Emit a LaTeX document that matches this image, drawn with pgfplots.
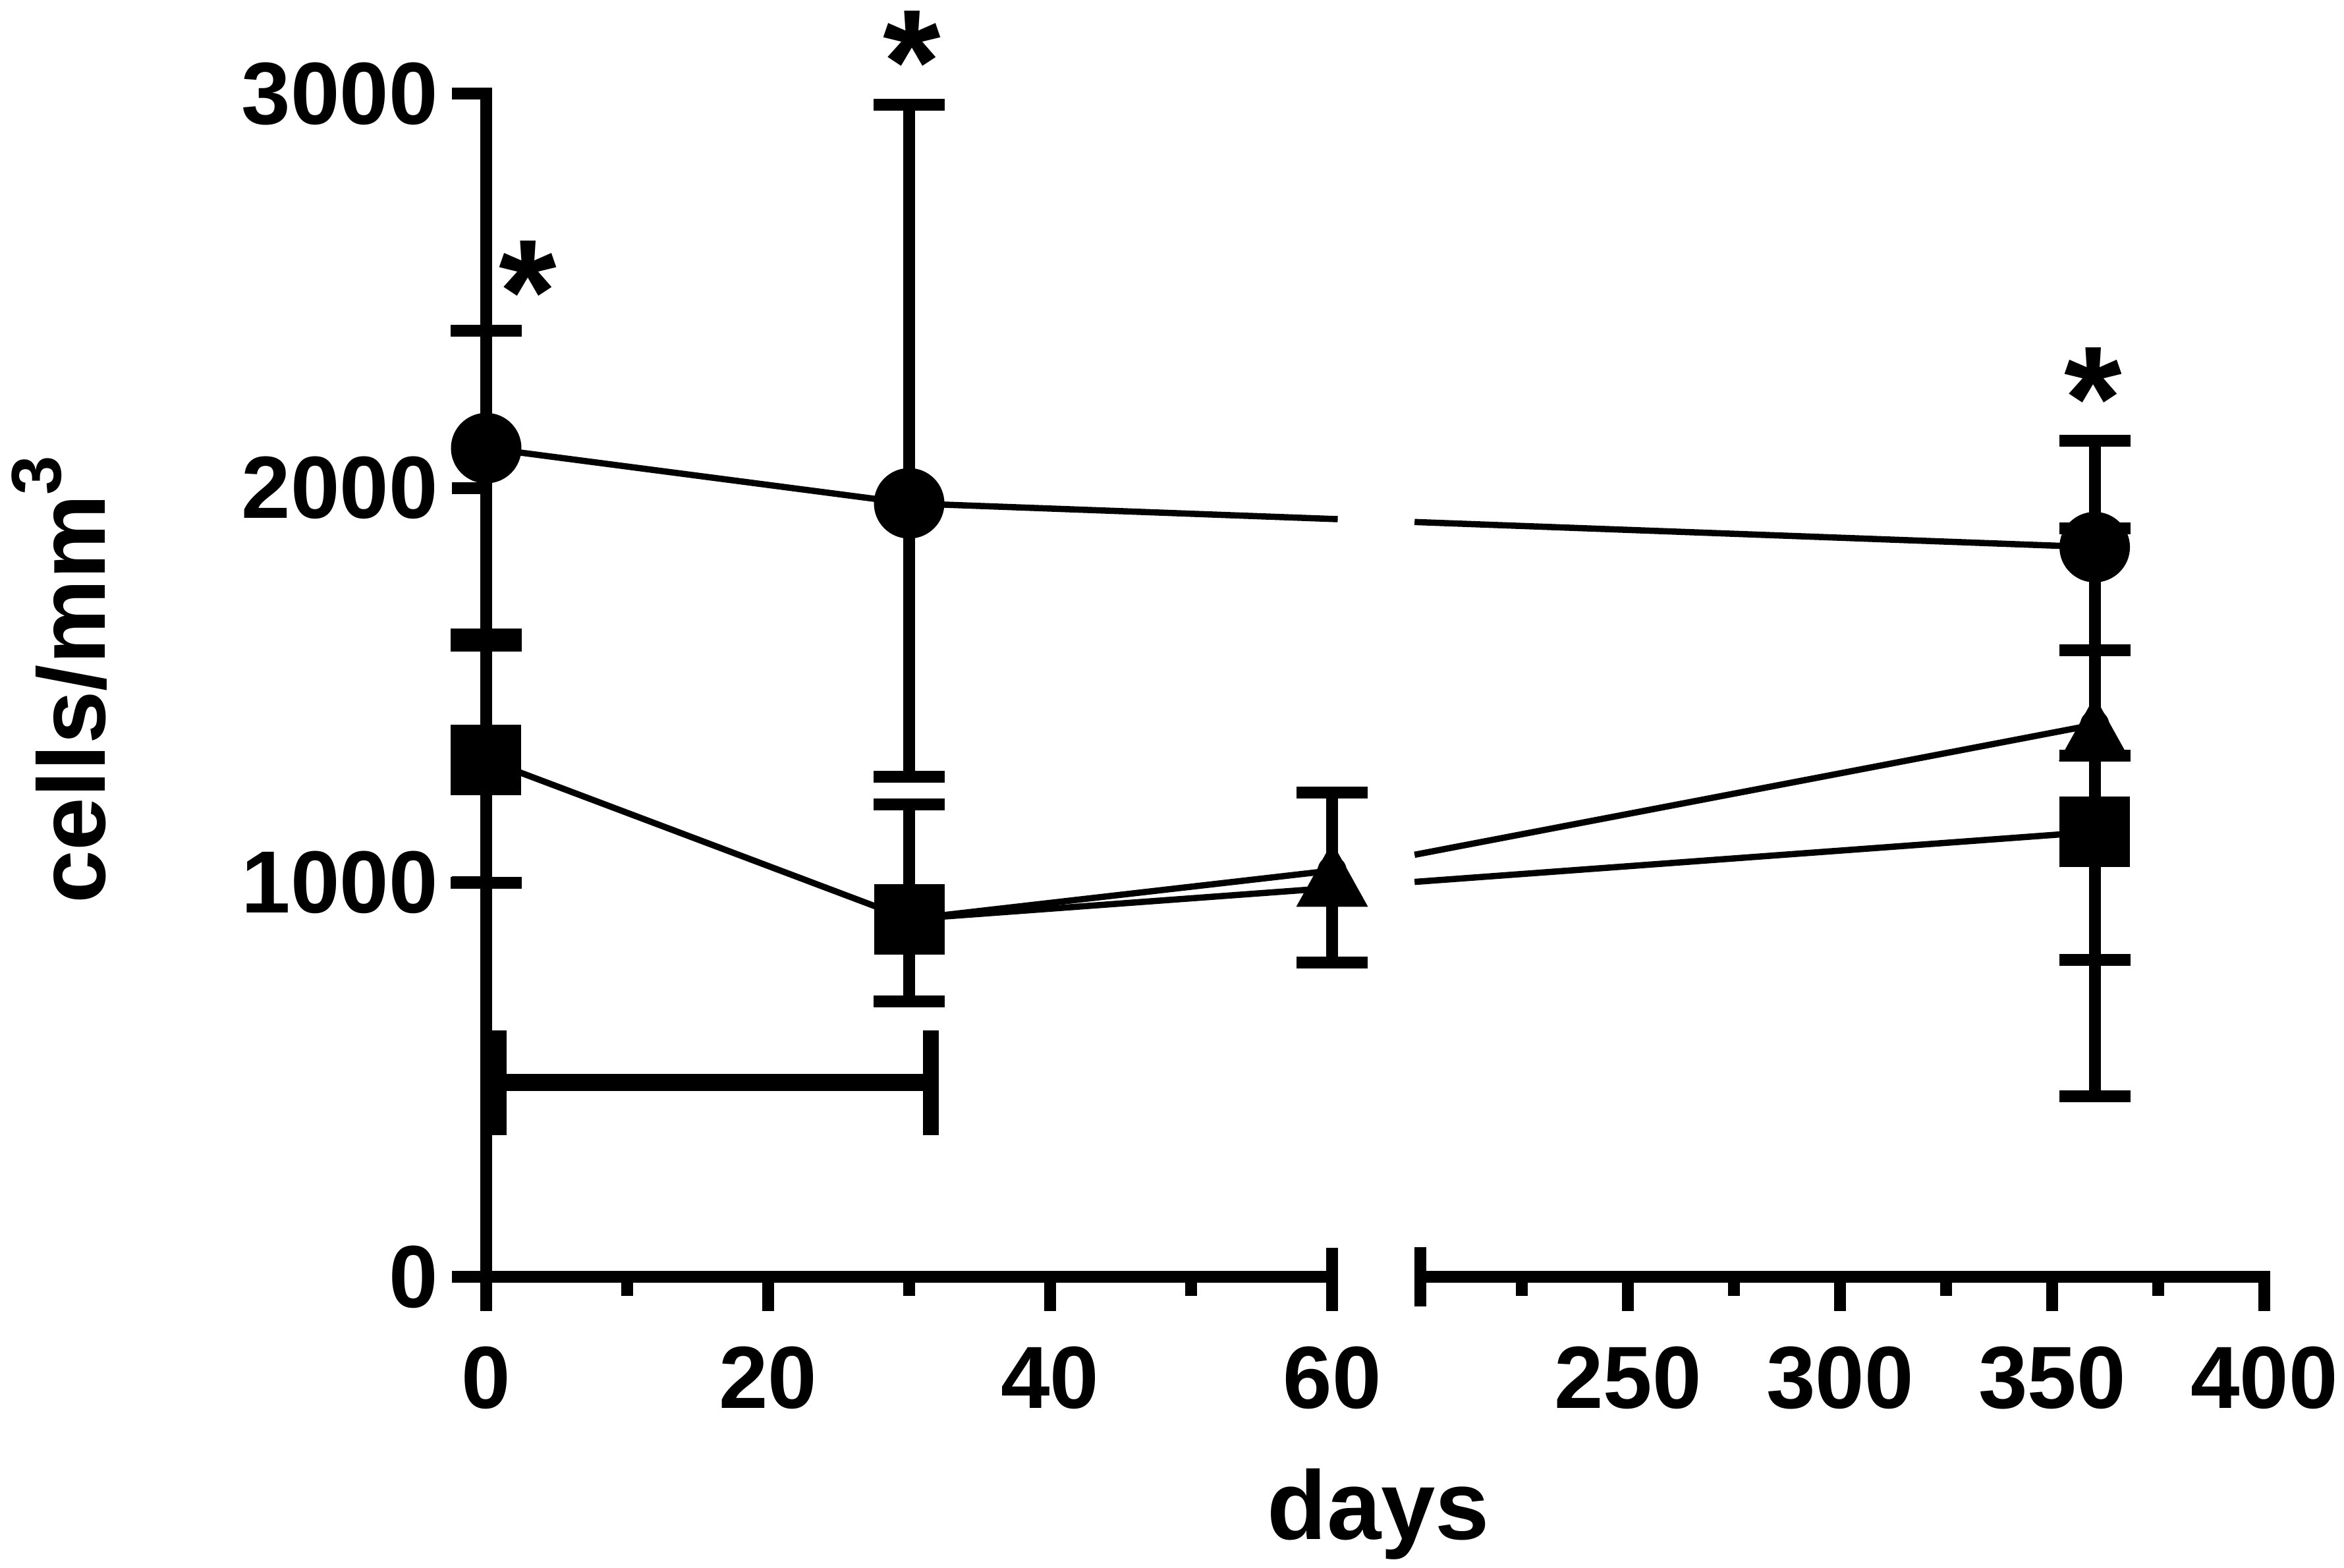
\documentclass[border=0pt]{standalone}
\usepackage{fontspec}
\setmainfont{Liberation Sans}
\usepackage{pgfplots}
\pgfplotsset{compat=1.18}
\usepackage{pgfplotstable}

% triangle drawn as Prism does: point lies a little above the box centre
\pgfdeclareplotmark{ptri}{%
  \pgfpathmoveto{\pgfqpoint{0pt}{4.3pt}}%
  \pgfpathlineto{\pgfqpoint{5.45pt}{-5.5pt}}%
  \pgfpathlineto{\pgfqpoint{-5.45pt}{-5.5pt}}%
  \pgfpathclose
  \pgfusepathqfill}

% x is the plotted position: days 0-60 as is, days 200-400 as 65.93+(d-200)*0.301
\pgfplotstableread{
x      y    lo   hi
0      2101 1600 2399
30     1961 1268 2971
114.09 1850 1588 2120
}\circdata
\pgfplotstableread{
x      y    lo   hi
0      1311 999  1628
30     907  699  1197
114.09 1128 804  1322
}\sqdata
\pgfplotstableread{
x      y    lo   hi
60     1030 797  1228
114.09 1400 458  1897
}\tridata

\newcommand{\tl}{\fontsize{13.4}{13.4}\selectfont\bfseries}
\newcommand{\al}{\fontsize{14.8}{14.8}\selectfont\bfseries}
\newcommand{\starfont}{\fontsize{22.5}{22.5}\selectfont\bfseries}

\begin{document}
\begin{tikzpicture}
\begin{axis}[
  at={(0,0)}, anchor=south west,
  scale only axis, width=269.92pt, height=179.6pt,
  xmin=0, xmax=126.13, ymin=0, ymax=3000,
  clip=false,
  axis lines=left, axis line style={draw=none},
  tick align=outside,
  xtick={0,20,40,60,80.98,96.03,111.08,126.13},
  minor xtick={10,30,50,73.46,88.51,103.56,118.61},
  ytick={0,1000,2000,3000}, minor ytick={},
  xticklabel=\empty, yticklabel=\empty,
  major tick length=5.15pt, minor tick length=2.9pt,
  tick style={black, line width=1.8pt},
]
% series lines (broken at the axis break)
\addplot[line width=0.95pt, mark=none] coordinates {(0,2101) (30,1961) (60.4,1920.9)};
\addplot[line width=0.95pt, mark=none] coordinates {(65.85,1913.7) (114.09,1850)};
\addplot[line width=0.95pt, mark=none] coordinates {(0,1311) (30,907) (60.4,986.9)};
\addplot[line width=0.95pt, mark=none] coordinates {(65.85,1001.2) (114.09,1128)};
\addplot[line width=0.95pt, mark=none] coordinates {(30,907) (60,1030) (60.4,1032.7)};
\addplot[line width=0.95pt, mark=none] coordinates {(65.85,1070) (114.09,1400)};

% error bars
\pgfplotsset{myerr/.style={only marks, mark=none,
  error bars/.cd, y dir=both, y explicit,
  error bar style={black, line width=1.8pt},
  error mark options={rotate=90, black, line width=1.8pt, mark size=5.4pt}}}
\addplot[myerr] table[x=x, y=y, y error plus expr=\thisrow{hi}-\thisrow{y}, y error minus expr=\thisrow{y}-\thisrow{lo}] {\circdata};
\addplot[myerr] table[x=x, y=y, y error plus expr=\thisrow{hi}-\thisrow{y}, y error minus expr=\thisrow{y}-\thisrow{lo}] {\sqdata};
\addplot[myerr] table[x=x, y=y, y error plus expr=\thisrow{hi}-\thisrow{y}, y error minus expr=\thisrow{y}-\thisrow{lo}] {\tridata};

% markers
\addplot[only marks, mark=*, mark size=5.25pt, mark options={fill=black, draw=black, line width=0.2pt}] table[x=x, y=y] {\circdata};
\addplot[only marks, mark=square*, mark size=5.25pt, mark options={fill=black, draw=black, line width=0.2pt}] table[x=x, y=y] {\sqdata};
\addplot[only marks, mark=ptri, mark options={fill=black}] table[x=x, y=y] {\tridata};

% treatment bracket
\addplot[line width=2.6pt, mark=none] coordinates {(0.93,493) (31.55,493)};
\addplot[line width=2.2pt, mark=none] coordinates {(0.93,359) (0.93,625)};
\addplot[line width=2.4pt, mark=none] coordinates {(31.55,359) (31.55,625)};

% broken x axis and y axis lines
\draw[line width=1.8pt] (axis cs:0,0) -- (axis cs:60,0);
\draw[line width=1.8pt] (axis cs:60,0) -- ++(0pt,4.4pt);
\draw[line width=1.8pt] ([yshift=-4.5pt]axis cs:66.26,0) -- ([yshift=4.5pt]axis cs:66.26,0);
\draw[line width=1.8pt] (axis cs:66.26,0) -- (axis cs:126.55,0);
\draw[line width=1.8pt] (axis cs:0,0) -- ([yshift=0.9pt]axis cs:0,3000);

% tick labels
\foreach \u/\t in {0/0,20/20,40/40,60/60,80.98/250,96.03/300,111.08/350,126.13/400}{
  \edef\tmp{\noexpand\node[anchor=north, inner sep=0pt, font=\noexpand\tl] at ([yshift=-10.4pt]axis cs:\u,0) {\t};}\tmp}
\foreach \v in {0,1000,2000,3000}{
  \edef\tmp{\noexpand\node[anchor=east, inner sep=0pt, font=\noexpand\tl] at ([xshift=-7.1pt]axis cs:0,\v) {\v};}\tmp}

% axis titles
\node[anchor=base, inner sep=0pt, font=\al] at ([yshift=-39.8pt]axis cs:63.3,0) {days};
\node[rotate=90, anchor=base, inner sep=0pt, font=\fontsize{14.5}{14.5}\selectfont\bfseries]
  at ([xshift=-57.8pt]axis cs:0,1514) {cells/mm\raisebox{6.7pt}{\fontsize{10.7}{10.7}\selectfont 3}};

% significance marks
\node[anchor=north, inner sep=0pt, font=\starfont] at (axis cs:2.94,2630) {*};
\node[anchor=north, inner sep=0pt, font=\starfont] at (axis cs:30.2,3213) {*};
\node[anchor=north, inner sep=0pt, font=\starfont] at (axis cs:113.97,2359) {*};
\end{axis}
\pgfresetboundingbox
\path (-73.8pt,-44.2pt) rectangle (282.0pt,193.8pt);
\end{tikzpicture}
\end{document}
